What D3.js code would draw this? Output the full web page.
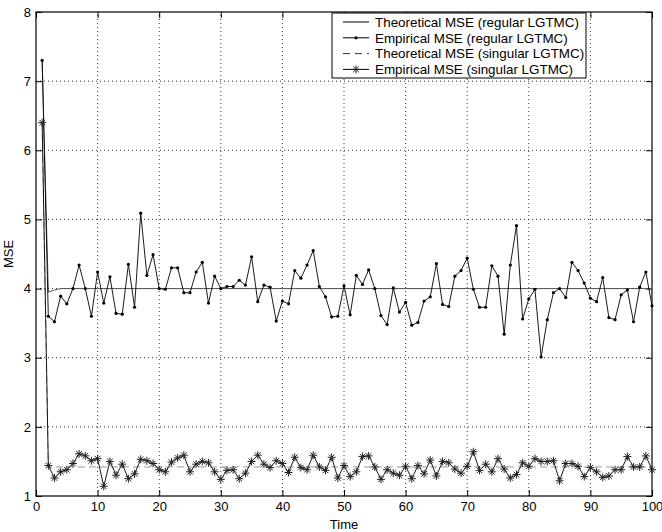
<!DOCTYPE html>
<html>
<head>
<meta charset="utf-8">
<script src="https://cdn.jsdelivr.net/npm/d3@7"></script>
<style>
  html, body { margin: 0; padding: 0; background: #fff; }
  svg { display: block; font-family: "Liberation Sans", Arial, sans-serif; }
</style>
</head>
<body>
<div id="chart"></div>
<script>
// ── Data ──────────────────────────────────────────────────────────────

const xTicks = [0, 10, 20, 30, 40, 50, 60, 70, 80, 90, 100];
const yTicks = [1, 2, 3, 4, 5, 6, 7, 8];

// empirical MSE, regular LGTMC, t = 1..100
const empRegular = [
  7.30, 3.60, 3.52, 3.89, 3.78, 4.00, 4.34, 4.00, 3.60, 4.24,
  3.79, 4.17, 3.64, 3.63, 4.35, 3.73, 5.09, 4.19, 4.49, 4.00,
  3.99, 4.30, 4.30, 3.94, 3.94, 4.24, 4.38, 3.79, 4.18, 4.00,
  4.03, 4.03, 4.12, 4.05, 4.46, 3.81, 4.05, 4.02, 3.53, 3.82,
  3.78, 4.26, 4.15, 4.34, 4.55, 4.03, 3.88, 3.59, 3.60, 4.04,
  3.62, 4.19, 4.06, 4.27, 4.00, 3.61, 3.48, 4.01, 3.66, 3.80,
  3.47, 3.51, 3.82, 3.88, 4.36, 3.77, 3.74, 4.18, 4.26, 4.44,
  3.99, 3.73, 3.73, 4.33, 4.18, 3.34, 4.34, 4.91, 3.56, 3.85,
  3.99, 3.01, 3.55, 3.94, 4.00, 3.87, 4.38, 4.26, 4.08, 3.86,
  3.81, 4.16, 3.58, 3.55, 3.91, 3.98, 3.52, 4.02, 4.24, 3.75
];

// empirical MSE, singular LGTMC, t = 1..100
const empSingular = [
  6.40, 1.44, 1.26, 1.35, 1.38, 1.47, 1.61, 1.58, 1.51, 1.54,
  1.14, 1.50, 1.30, 1.46, 1.25, 1.32, 1.53, 1.51, 1.47, 1.38,
  1.35, 1.49, 1.55, 1.59, 1.35, 1.46, 1.50, 1.48, 1.35, 1.24,
  1.37, 1.38, 1.25, 1.33, 1.50, 1.59, 1.46, 1.41, 1.51, 1.47,
  1.34, 1.56, 1.41, 1.38, 1.59, 1.42, 1.37, 1.56, 1.26, 1.44,
  1.28, 1.35, 1.57, 1.58, 1.42, 1.24, 1.38, 1.33, 1.30, 1.43,
  1.25, 1.44, 1.32, 1.52, 1.29, 1.50, 1.48, 1.39, 1.33, 1.43,
  1.64, 1.37, 1.46, 1.35, 1.54, 1.39, 1.26, 1.31, 1.48, 1.43,
  1.54, 1.50, 1.50, 1.51, 1.22, 1.47, 1.47, 1.43, 1.28, 1.41,
  1.35, 1.27, 1.29, 1.38, 1.38, 1.57, 1.42, 1.42, 1.58, 1.38
];

// theoretical curves, read as [t, MSE] break points
const theoRegular = [[1, 7.3], [2, 3.95], [3, 3.98], [4, 4.0], [100, 4.0]];
const theoSingular = [[1, 6.4], [2, 1.42], [100, 1.42]];

const legendLabels = [
  'Theoretical MSE (regular LGTMC)',
  'Empirical MSE (regular LGTMC)',
  'Theoretical MSE (singular LGTMC)',
  'Empirical MSE (singular LGTMC)'
];

// ── Layout ────────────────────────────────────────────────────────────

const W = 662, H = 532;
const M = { top: 12, right: 10, bottom: 36, left: 36 };
const TICK = 6;
const FONT = '13px';

const svg = d3.select('#chart').append('svg')
  .attr('width', W).attr('height', H);

const x = d3.scaleLinear().domain([0, 100]).range([M.left, W - M.right]);
const y = d3.scaleLinear().domain([1, 8]).range([H - M.bottom, M.top]);

const x0 = x.range()[0], x1 = x.range()[1];
const y0 = y.range()[0], y1 = y.range()[1];

// grid (dotted)
const grid = svg.append('g').attr('stroke', '#000').attr('stroke-width', 0.8)
  .attr('stroke-dasharray', '1,3');
grid.selectAll('.gx').data(xTicks.slice(1, -1)).join('line')
  .attr('x1', d => x(d)).attr('x2', d => x(d)).attr('y1', y0).attr('y2', y1);
grid.selectAll('.gy').data(yTicks.slice(1, -1)).join('line')
  .attr('x1', x0).attr('x2', x1).attr('y1', d => y(d)).attr('y2', d => y(d));

// axes with inward ticks, MATLAB style
const axisStyle = g => {
  g.select('.domain').remove();
  g.selectAll('line').attr('stroke', '#000');
  g.selectAll('text').attr('font-size', FONT).attr('fill', '#000')
    .attr('font-family', '"Liberation Sans", Arial, sans-serif');
};

svg.append('g').attr('transform', `translate(0,${y0})`)
  .call(d3.axisBottom(x).tickValues(xTicks).tickFormat(d3.format('d'))
    .tickSizeInner(-TICK).tickSizeOuter(0).tickPadding(6))
  .call(axisStyle);
svg.append('g').attr('transform', `translate(0,${y1})`)
  .call(d3.axisTop(x).tickValues(xTicks).tickSizeInner(-TICK).tickSizeOuter(0).tickFormat(''))
  .call(axisStyle);
svg.append('g').attr('transform', `translate(${x0},0)`)
  .call(d3.axisLeft(y).tickValues(yTicks).tickFormat(d3.format('d'))
    .tickSizeInner(-TICK).tickSizeOuter(0).tickPadding(5))
  .call(axisStyle);
svg.append('g').attr('transform', `translate(${x1},0)`)
  .call(d3.axisRight(y).tickValues(yTicks).tickSizeInner(-TICK).tickSizeOuter(0).tickFormat(''))
  .call(axisStyle);

// frame
svg.append('rect')
  .attr('x', x0).attr('y', y1).attr('width', x1 - x0).attr('height', y0 - y1)
  .attr('fill', 'none').attr('stroke', '#000').attr('stroke-width', 1.2);

// axis labels
svg.append('text').attr('x', (x0 + x1) / 2).attr('y', H - 3)
  .attr('text-anchor', 'middle').attr('font-size', FONT).text('Time');
svg.append('text')
  .attr('transform', `translate(13,${(y0 + y1) / 2}) rotate(-90)`)
  .attr('text-anchor', 'middle').attr('font-size', FONT).text('MSE');

// ── Series ────────────────────────────────────────────────────────────

const line = d3.line().x(d => x(d[0])).y(d => y(d[1]));
const idx = v => v.map((d, i) => [i + 1, d]);

const plot = svg.append('g');

plot.append('path').datum(theoSingular).attr('d', line)
  .attr('fill', 'none').attr('stroke', '#9a9a9a').attr('stroke-width', 1)
  .attr('stroke-dasharray', '7,4');

plot.append('path').datum(theoRegular).attr('d', line)
  .attr('fill', 'none').attr('stroke', '#555').attr('stroke-width', 1);

plot.append('path').datum(idx(empRegular)).attr('d', line)
  .attr('fill', 'none').attr('stroke', '#000').attr('stroke-width', 0.9);
plot.selectAll('.dot').data(idx(empRegular)).join('circle')
  .attr('cx', d => x(d[0])).attr('cy', d => y(d[1])).attr('r', 1.6).attr('fill', '#000');

plot.append('path').datum(idx(empSingular)).attr('d', line)
  .attr('fill', 'none').attr('stroke', '#000').attr('stroke-width', 0.9);

const star = (sel, s) => {
  sel.append('path')
    .attr('d', `M${-s},0H${s}M0,${-s}V${s}M${-s * 0.7},${-s * 0.7}L${s * 0.7},${s * 0.7}M${-s * 0.7},${s * 0.7}L${s * 0.7},${-s * 0.7}`)
    .attr('stroke', '#222').attr('stroke-width', 1).attr('fill', 'none');
};
plot.selectAll('.star').data(idx(empSingular)).join('g')
  .attr('transform', d => `translate(${x(d[0])},${y(d[1])})`)
  .call(star, 4);

// ── Legend ────────────────────────────────────────────────────────────

const lg = svg.append('g');
lg.append('rect').attr('x', 332).attr('y', 13).attr('width', 254).attr('height', 65)
  .attr('fill', '#fff').attr('stroke', '#000').attr('stroke-width', 1);

const rowY = i => 22 + i * 15.8;
const sx0 = 343, sx1 = 369;

legendLabels.forEach((label, i) => {
  const g = lg.append('g').attr('transform', `translate(0,${rowY(i)})`);
  const l = g.append('line').attr('x1', sx0).attr('x2', sx1).attr('y1', 0).attr('y2', 0)
    .attr('stroke', '#000').attr('stroke-width', 1);
  if (i === 2) l.attr('stroke-dasharray', '7,5').attr('stroke', '#333');
  if (i === 1) g.append('circle').attr('cx', (sx0 + sx1) / 2).attr('cy', 0).attr('r', 1.6);
  if (i === 3) g.append('g').attr('transform', `translate(${(sx0 + sx1) / 2},0)`).call(star, 4);
  g.append('text').attr('x', 375).attr('y', 0).attr('dy', '0.36em')
    .attr('font-size', '13.4px').text(label);
});
</script>
</body>
</html>
